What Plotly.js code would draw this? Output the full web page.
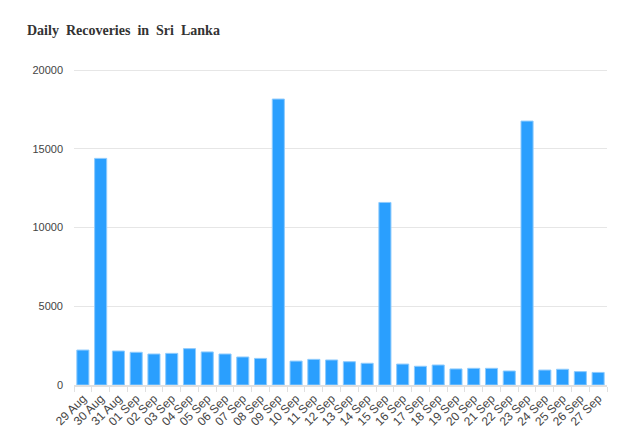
<!DOCTYPE html>
<html>
<head>
<meta charset="utf-8">
<script src="https://cdn.plot.ly/plotly-3.0.1.min.js"></script>
<style>html,body{margin:0;padding:0;background:#fff;}#chart{width:631px;height:436px;}</style>
</head>
<body>
<div id="chart"></div>
<script>
const dates = ["29 Aug","30 Aug","31 Aug","01 Sep","02 Sep","03 Sep","04 Sep","05 Sep","06 Sep","07 Sep","08 Sep","09 Sep","10 Sep","11 Sep","12 Sep","13 Sep","14 Sep","15 Sep","16 Sep","17 Sep","18 Sep","19 Sep","20 Sep","21 Sep","22 Sep","23 Sep","24 Sep","25 Sep","26 Sep","27 Sep"];
const recoveries = [2220,14400,2160,2080,1970,2010,2310,2100,1970,1780,1690,18170,1520,1630,1590,1480,1380,11600,1330,1190,1270,1020,1060,1060,890,16770,950,1000,850,800];
const yTicks = [0,5000,10000,15000,20000];

Plotly.newPlot('chart', [{
  type: 'bar',
  x: dates,
  y: recoveries,
  marker: {color: '#2a9ffe', line: {color: '#8ecbfd', width: 1}},
  hoverinfo: 'x+y'
}], {
  width: 631, height: 436,
  margin: {l: 74, r: 24, t: 69, b: 51},
  paper_bgcolor: '#fff', plot_bgcolor: '#fff',
  bargap: 0.32,
  showlegend: false,
  title: {
    text: 'Daily\u00a0 Recoveries\u00a0 in\u00a0 Sri\u00a0 Lanka',
    font: {family: 'Liberation Serif, serif', size: 14, color: '#333', weight: 'bold'},
    x: 27/631, xanchor: 'left', y: 1 - 30/436, yanchor: 'middle'
  },
  xaxis: {
    type: 'category',
    tickangle: -45,
    tickfont: {family: 'Liberation Sans, Arial, sans-serif', size: 12, color: '#444'},
    showline: true, linecolor: '#e0e0e0', linewidth: 2,
    ticks: 'outside', tickson: 'boundaries', ticklen: 5, tickcolor: '#e0e0e0', tickwidth: 1,
    showgrid: false, fixedrange: true
  },
  yaxis: {
    range: [0, 20080],
    tickvals: yTicks,
    ticktext: yTicks.map(String),
    tickfont: {family: 'Liberation Sans, Arial, sans-serif', size: 11, color: '#444'},
    showgrid: true, gridcolor: '#e6e6e6', gridwidth: 1,
    zeroline: false, showline: false,
    ticks: '', ticklabelstandoff: 10, fixedrange: true
  }
}, {displayModeBar: false, staticPlot: true});
</script>
</body>
</html>
